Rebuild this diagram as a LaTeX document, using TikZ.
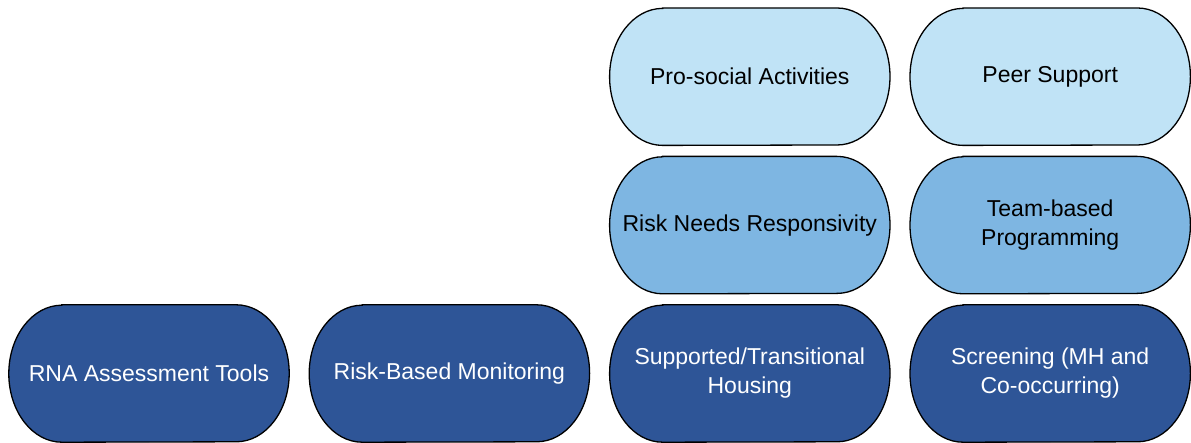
\documentclass[tikz,border=0pt]{standalone}
\usepackage{fontspec}
\setmainfont{Liberation Sans}
\usetikzlibrary{positioning,calc,backgrounds}

\definecolor{darkblue}{HTML}{2E5597}
\definecolor{midblue}{HTML}{7EB6E2}
\definecolor{lightblue}{HTML}{C0E3F6}

% pill outline with elliptic ends behind a node: #1 node, #2 fill
\newcommand{\pillbox}[2]{%
  \draw[fill=#2, line width=1.3pt]
    ($(#1.north west)+(53,0)$) -- ($(#1.north east)+(-53,0)$)
    arc[start angle=-90, end angle=90, x radius=53, y radius=68.5]
    -- ($(#1.south west)+(53,0)$)
    arc[start angle=90, end angle=270, x radius=53, y radius=68.5]
    -- cycle;}

\begin{document}
\begin{tikzpicture}[x=1pt, y=-1pt, node distance=11pt and 20pt,
    pill/.style={minimum width=280pt, minimum height=137pt, align=center,
        font=\fontsize{23}{29}\selectfont, inner sep=0pt},
    darkpill/.style={pill, text=white},
    midpill/.style={pill, text=black},
    lightpill/.style={pill, text=black}]

    % page size
    \useasboundingbox (0,0) rectangle (1191,443);

    % bottom row
    \node[darkpill] (rna) at (149,373.5) {RNA Assessment Tools};
    \node[darkpill, right=of rna] (monitor) {Risk-Based Monitoring};
    \node[darkpill, right=of monitor] (housing) {Supported/Transitional\\Housing};
    \node[darkpill, right=of housing] (screen) {Screening (MH and\\Co-occurring)};

    % middle row
    \node[midpill, above=of housing] (rnr) {Risk Needs Responsivity};
    \node[midpill, above=of screen] (team) {Team-based\\Programming};

    % top row
    \node[lightpill, above=of rnr] (prosocial) {Pro-social Activities};
    \node[lightpill, above=of team] (peer) {Peer Support};

    % outlines
    \begin{scope}[on background layer]
        \foreach \n in {rna, monitor, housing, screen}
            \pillbox{\n}{darkblue};
        \foreach \n in {rnr, team}
            \pillbox{\n}{midblue};
        \foreach \n in {prosocial, peer}
            \pillbox{\n}{lightblue};
    \end{scope}

\end{tikzpicture}
\end{document}
